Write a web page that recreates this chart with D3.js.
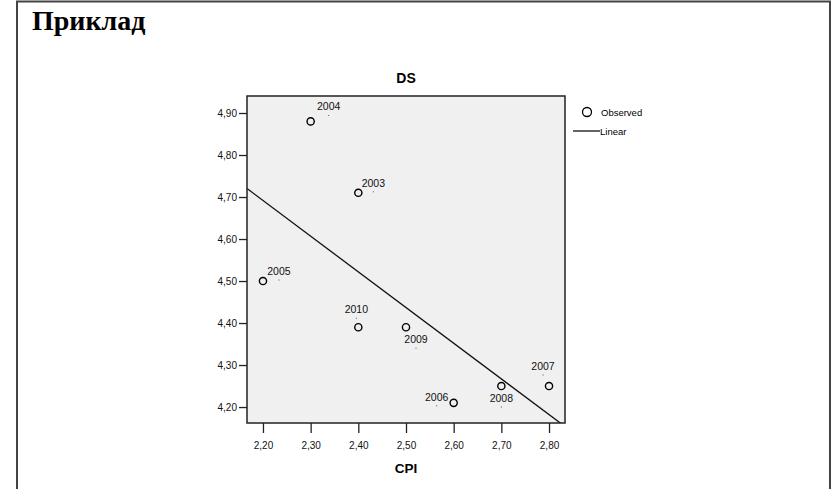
<!DOCTYPE html>
<html>
<head>
<meta charset="utf-8">
<script src="https://cdn.jsdelivr.net/npm/d3@7"></script>
<style>
  body { margin: 0; background: #fff; }
  text { font-family: Arial, "Liberation Sans", sans-serif; }
</style>
</head>
<body>
<svg id="chart" width="832" height="489"></svg>
<script>
// data
const years = ["2004", "2003", "2005", "2010", "2009", "2006", "2008", "2007"]
const cpi = [2.30, 2.40, 2.20, 2.40, 2.50, 2.60, 2.70, 2.80]
const ds = [4.88, 4.71, 4.50, 4.39, 4.39, 4.21, 4.25, 4.25]
const xTicks = [2.20, 2.30, 2.40, 2.50, 2.60, 2.70, 2.80]
const yTicks = [4.20, 4.30, 4.40, 4.50, 4.60, 4.70, 4.80, 4.90]

// where each SPSS label anchor dot sits, relative to its point (px)
const labelDots = {
    "2004": [18, -6], "2003": [15, -1], "2005": [16, -1], "2010": [-2, -9],
    "2009": [10, 21], "2006": [-17, 3], "2008": [0, 21], "2007": [-6, -11]
}

const svg = d3.select("#chart")
const comma = d3.formatLocale({ decimal: ",", thousands: ".", grouping: [3], currency: ["", ""] }).format(".2f")

// slide frame + heading
svg.append("rect")
    .attr("x", 17).attr("y", 1.5).attr("width", 813).attr("height", 500)
    .attr("fill", "none").attr("stroke", "#444").attr("stroke-width", 2)

svg.append("text")
    .attr("x", 32).attr("y", 29.5)
    .style("font-family", "'Liberation Serif', 'Times New Roman', serif")
    .style("font-weight", "bold").style("font-size", "28px")
    .text("Приклад")

const plotL = 247, plotR = 565, plotT = 96, plotB = 423

const x = d3.scaleLinear().domain([2.1665, 2.8335]).range([plotL, plotR])
const y = d3.scaleLinear().domain([4.162, 4.9405]).range([plotB, plotT])

svg.append("rect")
    .attr("x", plotL).attr("y", plotT).attr("width", plotR - plotL).attr("height", plotB - plotT)
    .attr("fill", "#f0f0f0")

svg.append("clipPath").attr("id", "plotclip")
    .append("rect")
    .attr("x", plotL).attr("y", plotT).attr("width", plotR - plotL).attr("height", plotB - plotT)

// axes
const xAxis = svg.append("g")
    .attr("transform", `translate(0,${plotB})`)
    .call(d3.axisBottom(x).tickValues(xTicks).tickFormat(comma).tickSize(10).tickSizeOuter(0))
const yAxis = svg.append("g")
    .attr("transform", `translate(${plotL},0)`)
    .call(d3.axisLeft(y).tickValues(yTicks).tickFormat(comma).tickSize(8).tickSizeOuter(0))

for (const ax of [xAxis, yAxis]) {
    ax.select(".domain").remove()
    ax.selectAll("line").attr("stroke", "#222").attr("stroke-width", 1.3)
    ax.selectAll("text").attr("fill", "#111").style("font-size", "10px")
        .style("font-family", "Arial, 'Liberation Sans', sans-serif")
}
xAxis.selectAll("text").attr("dy", "1.25em")
yAxis.selectAll("text").attr("x", -10)

// least squares line, as SPSS draws it
const mx = d3.mean(cpi), my = d3.mean(ds)
const slope = d3.sum(cpi, (v, i) => (v - mx) * (ds[i] - my)) / d3.sum(cpi, v => (v - mx) ** 2)
const intercept = my - slope * mx
const xd = x.domain()

svg.append("line")
    .attr("clip-path", "url(#plotclip)")
    .attr("x1", x(xd[0])).attr("y1", y(intercept + slope * xd[0]))
    .attr("x2", x(xd[1])).attr("y2", y(intercept + slope * xd[1]))
    .attr("stroke", "#111").attr("stroke-width", 1.3)

// points
svg.append("g").selectAll("circle")
    .data(cpi)
    .join("circle")
    .attr("cx", d => x(d))
    .attr("cy", (d, i) => y(ds[i]))
    .attr("r", 3.6)
    .attr("fill", "none").attr("stroke", "#000").attr("stroke-width", 1.4)

// year labels with their tiny anchor dot
const labels = svg.append("g")
years.forEach((yr, i) => {
    const px = x(cpi[i]) + labelDots[yr][0]
    const py = y(ds[i]) + labelDots[yr][1]
    labels.append("rect")
        .attr("x", px - 0.5).attr("y", py - 0.5).attr("width", 1).attr("height", 1)
        .attr("fill", "#555")
    labels.append("text")
        .attr("x", px).attr("y", py - 5)
        .attr("text-anchor", "middle")
        .style("font-size", "10.5px").attr("fill", "#111")
        .text(yr)
})

// frame drawn over the line ends
svg.append("rect")
    .attr("x", plotL).attr("y", plotT).attr("width", plotR - plotL).attr("height", plotB - plotT)
    .attr("fill", "none").attr("stroke", "#222").attr("stroke-width", 1.5)

svg.append("text")
    .attr("x", 406).attr("y", 83).attr("text-anchor", "middle")
    .style("font-weight", "bold").style("font-size", "14px")
    .text("DS")
svg.append("text")
    .attr("x", 406).attr("y", 473).attr("text-anchor", "middle")
    .style("font-weight", "bold").style("font-size", "13.5px")
    .text("CPI")

// legend
const legend = svg.append("g")
legend.append("circle")
    .attr("cx", 587).attr("cy", 112).attr("r", 4.5)
    .attr("fill", "none").attr("stroke", "#000").attr("stroke-width", 1.3)
legend.append("text")
    .attr("x", 601).attr("y", 115.5).style("font-size", "9.5px")
    .text("Observed")
legend.append("line")
    .attr("x1", 573).attr("x2", 600).attr("y1", 131).attr("y2", 131)
    .attr("stroke", "#111").attr("stroke-width", 1.3)
legend.append("text")
    .attr("x", 600).attr("y", 134.5).style("font-size", "9.5px")
    .text("Linear")
</script>
</body>
</html>
